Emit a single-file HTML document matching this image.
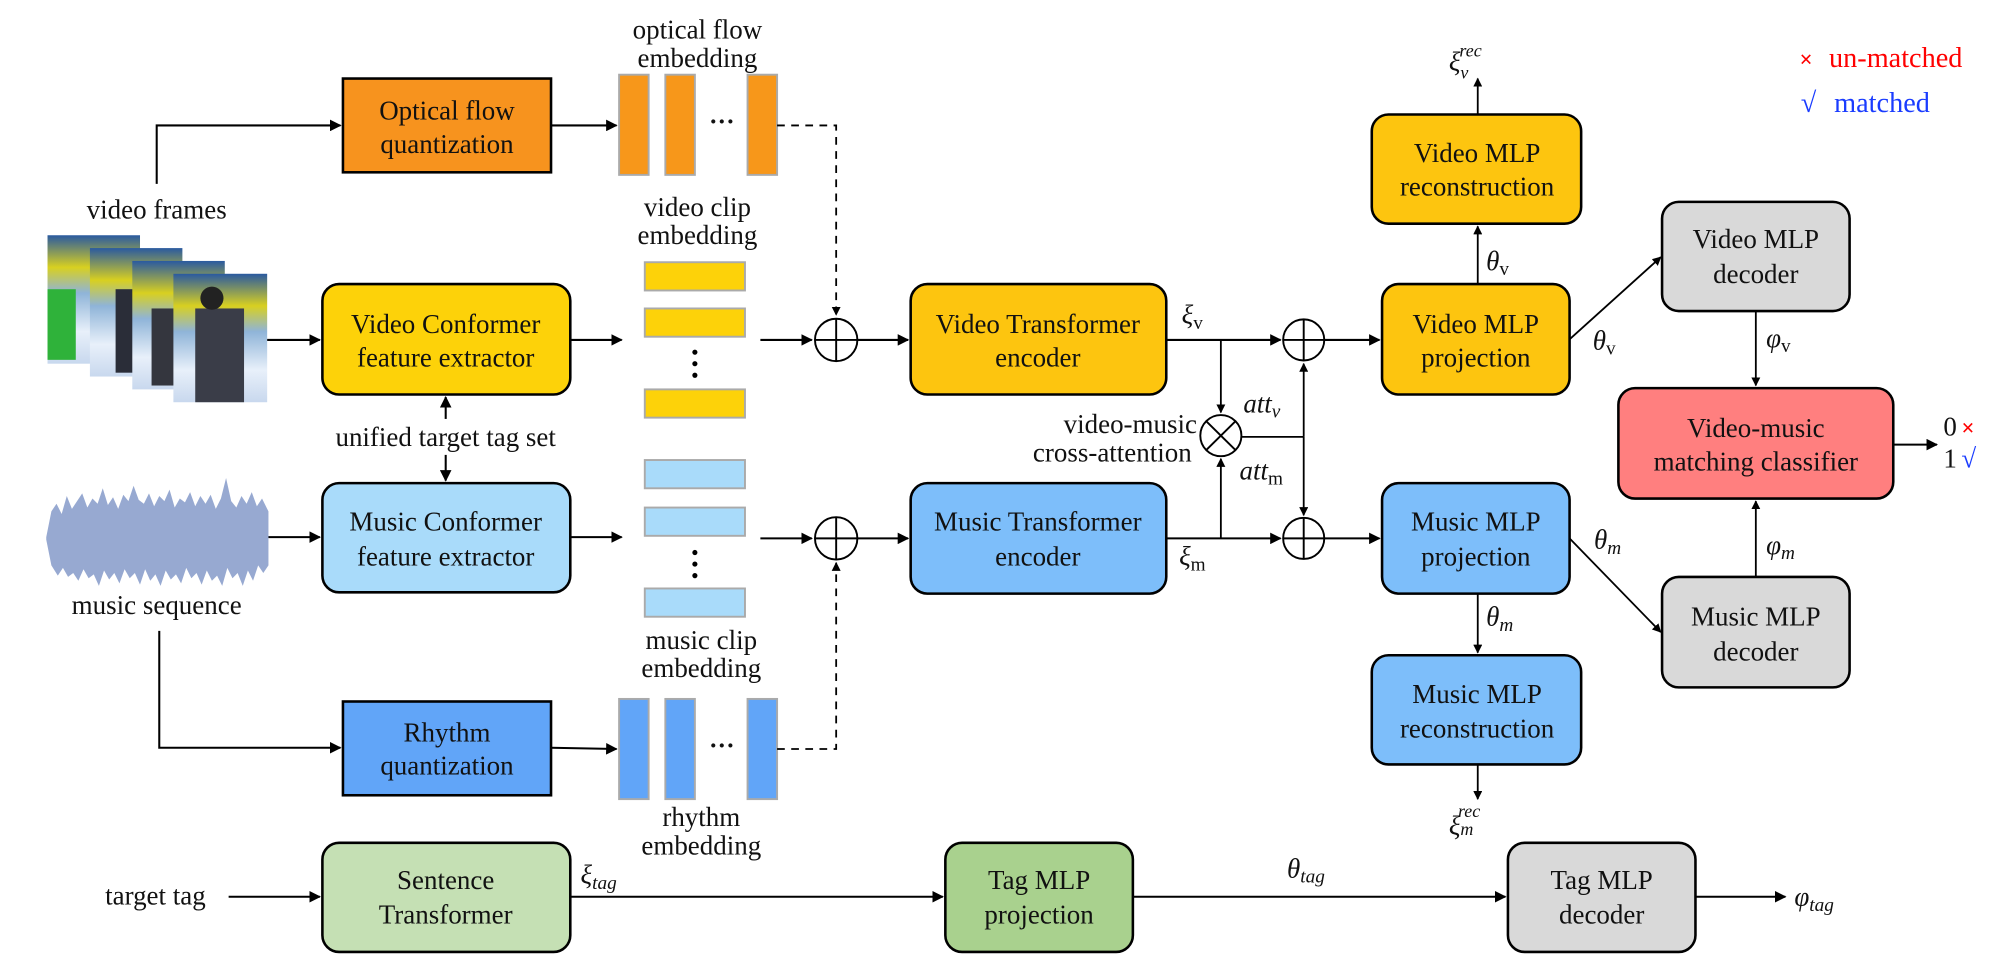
<!DOCTYPE html>
<html><head><meta charset="utf-8"><style>
html,body{margin:0;padding:0;background:#fff;}
svg{display:block;}
svg text{font-family:"Liberation Serif","Times New Roman",serif !important;fill:#111;}
.b{font-size:21px;}
.m{font-style:italic;font-size:21px;}
</style></head><body>
<svg width="2014" height="974" viewBox="0 0 1568 758" xmlns="http://www.w3.org/2000/svg" font-family="Liberation Serif, serif">
<defs>
<marker id="a" viewBox="0 0 10 10" refX="9" refY="5" markerWidth="7" markerHeight="7" orient="auto-start-reverse" markerUnits="userSpaceOnUse"><path d="M0,0 L10,5 L0,10 z" fill="#000"/></marker>
<marker id="A" viewBox="0 0 10 10" refX="9" refY="5" markerWidth="9" markerHeight="9" orient="auto-start-reverse" markerUnits="userSpaceOnUse"><path d="M0,0 L10,5 L0,10 z" fill="#000"/></marker>
<linearGradient id="fr" x1="0" y1="0" x2="0" y2="1">
<stop offset="0" stop-color="#2a5aa0"/><stop offset="0.25" stop-color="#d8d020"/><stop offset="0.45" stop-color="#8fb4d8"/><stop offset="0.75" stop-color="#e8f0fa"/><stop offset="1" stop-color="#c8d8ee"/></linearGradient>
</defs>

<!-- video frames -->
<g>
<rect x="37" y="183" width="72" height="100" fill="url(#fr)"/>
<rect x="37" y="225" width="22" height="55" fill="#2fb23a"/>
<rect x="70" y="193" width="72" height="100" fill="url(#fr)"/>
<rect x="90" y="225" width="35" height="65" fill="#2a2d38"/>
<rect x="103" y="203" width="72" height="100" fill="url(#fr)"/>
<rect x="118" y="240" width="40" height="60" fill="#34363e"/>
<rect x="135" y="213" width="73" height="100" fill="url(#fr)"/>
<rect x="152" y="240" width="38" height="73" fill="#3a3d48"/>
<circle cx="165" cy="232" r="9" fill="#222"/>
</g>
<text class="b" x="122" y="170" text-anchor="middle">video frames</text>

<!-- waveform -->
<path fill="#97A9D1" d="M36,418 L40,398 44,392 48,400 52,386 56,396 60,390 64,384 68,395 72,388 76,392 80,380 84,393 88,387 92,396 96,385 100,390 104,378 108,389 112,392 116,384 120,394 124,386 128,390 132,381 136,395 140,388 144,391 148,383 152,394 156,386 160,392 164,385 168,396 172,388 176,372 180,390 184,395 188,386 192,392 196,383 200,394 204,388 209,398 L209,440 205,446 201,440 197,452 193,444 189,456 185,446 181,450 177,442 173,456 169,448 165,452 161,444 157,455 153,446 149,450 145,442 141,454 137,447 133,451 129,444 125,456 121,447 117,452 113,443 109,455 105,446 101,450 97,443 93,454 89,446 85,451 81,444 77,456 73,447 69,450 65,443 61,452 57,446 53,449 49,442 45,448 40,440 36,420 Z"/>
<text class="b" x="122" y="478" text-anchor="middle">music sequence</text>

<!-- optical flow -->
<rect x="267" y="61" width="162" height="73" fill="#F7931E" stroke="#000" stroke-width="2"/>
<text class="b" x="348" y="93" text-anchor="middle">Optical flow</text>
<text class="b" x="348" y="119" text-anchor="middle">quantization</text>
<polyline points="122,143 122,97.5 265,97.5" fill="none" stroke="#000" stroke-width="1.6" marker-end="url(#A)"/>
<line x1="429" y1="97.5" x2="480" y2="97.5" stroke="#000" stroke-width="1.6" marker-end="url(#A)"/>
<g fill="#F7971A" stroke="#aaa" stroke-width="1.5">
<rect x="482" y="58" width="23" height="78"/><rect x="518" y="58" width="23" height="78"/><rect x="582" y="58" width="23" height="78"/></g>
<text x="562" y="101" text-anchor="middle" style="font-size:20px;font-weight:bold">···</text>
<polyline points="605,97.5 651,97.5 651,245" fill="none" stroke="#000" stroke-width="1.4" stroke-dasharray="6,5" marker-end="url(#a)"/>
<text class="b" x="543" y="30" text-anchor="middle">optical flow</text>
<text class="b" x="543" y="52" text-anchor="middle">embedding</text>

<!-- video conformer -->
<rect x="251" y="221" width="193" height="86" rx="13" fill="#FDD209" stroke="#000" stroke-width="2"/>
<text class="b" x="347" y="259" text-anchor="middle">Video Conformer</text>
<text class="b" x="347" y="285" text-anchor="middle">feature extractor</text>
<line x1="208" y1="264.5" x2="249" y2="264.5" stroke="#000" stroke-width="1.6" marker-end="url(#A)"/>
<line x1="444" y1="264.5" x2="484" y2="264.5" stroke="#000" stroke-width="1.6" marker-end="url(#A)"/>
<text class="b" x="543" y="168" text-anchor="middle">video clip</text>
<text class="b" x="543" y="190" text-anchor="middle">embedding</text>
<g fill="#FDD209" stroke="#aaa" stroke-width="1.5">
<rect x="502" y="204" width="78" height="22"/><rect x="502" y="240" width="78" height="22"/><rect x="502" y="303" width="78" height="22"/></g>
<g fill="#000"><circle cx="541" cy="274" r="2"/><circle cx="541" cy="283" r="2"/><circle cx="541" cy="292" r="2"/></g>
<line x1="592" y1="264.5" x2="632" y2="264.5" stroke="#000" stroke-width="1.6" marker-end="url(#A)"/>
<circle cx="651" cy="264.5" r="16.5" fill="none" stroke="#000" stroke-width="1.5"/>
<line x1="634.5" y1="264.5" x2="667.5" y2="264.5" stroke="#000" stroke-width="1.5"/>
<line x1="651" y1="248" x2="651" y2="281" stroke="#000" stroke-width="1.5"/>
<line x1="667.5" y1="264.5" x2="707" y2="264.5" stroke="#000" stroke-width="1.6" marker-end="url(#A)"/>

<!-- unified -->
<text class="b" x="347" y="347" text-anchor="middle">unified target tag set</text>
<line x1="347" y1="326" x2="347" y2="309" stroke="#000" stroke-width="1.6" marker-end="url(#A)"/>
<line x1="347" y1="354" x2="347" y2="374" stroke="#000" stroke-width="1.6" marker-end="url(#A)"/>

<!-- music conformer -->
<rect x="251" y="376" width="193" height="85" rx="13" fill="#A9DBFA" stroke="#000" stroke-width="2"/>
<text class="b" x="347" y="413" text-anchor="middle">Music Conformer</text>
<text class="b" x="347" y="440" text-anchor="middle">feature extractor</text>
<line x1="209" y1="418" x2="249" y2="418" stroke="#000" stroke-width="1.6" marker-end="url(#A)"/>
<line x1="444" y1="418" x2="484" y2="418" stroke="#000" stroke-width="1.6" marker-end="url(#A)"/>
<g fill="#A9DBFA" stroke="#aaa" stroke-width="1.5">
<rect x="502" y="358" width="78" height="22"/><rect x="502" y="395" width="78" height="22"/><rect x="502" y="458" width="78" height="22"/></g>
<g fill="#000"><circle cx="541" cy="430" r="2"/><circle cx="541" cy="439" r="2"/><circle cx="541" cy="448" r="2"/></g>
<text class="b" x="546" y="505" text-anchor="middle">music clip</text>
<text class="b" x="546" y="527" text-anchor="middle">embedding</text>
<line x1="592" y1="419" x2="632" y2="419" stroke="#000" stroke-width="1.6" marker-end="url(#A)"/>
<circle cx="651" cy="419" r="16.5" fill="none" stroke="#000" stroke-width="1.5"/>
<line x1="634.5" y1="419" x2="667.5" y2="419" stroke="#000" stroke-width="1.5"/>
<line x1="651" y1="402.5" x2="651" y2="435.5" stroke="#000" stroke-width="1.5"/>
<line x1="667.5" y1="419" x2="707" y2="419" stroke="#000" stroke-width="1.6" marker-end="url(#A)"/>

<!-- rhythm -->
<polyline points="124,491 124,582 265,582" fill="none" stroke="#000" stroke-width="1.6" marker-end="url(#A)"/>
<rect x="267" y="546" width="162" height="73" fill="#61A5F8" stroke="#000" stroke-width="2"/>
<text class="b" x="348" y="577" text-anchor="middle">Rhythm</text>
<text class="b" x="348" y="603" text-anchor="middle">quantization</text>
<line x1="429" y1="582" x2="480" y2="583" stroke="#000" stroke-width="1.6" marker-end="url(#A)"/>
<g fill="#61A5F8" stroke="#aaa" stroke-width="1.5">
<rect x="482" y="544" width="23" height="78"/><rect x="518" y="544" width="23" height="78"/><rect x="582" y="544" width="23" height="78"/></g>
<text x="562" y="587" text-anchor="middle" style="font-size:20px;font-weight:bold">···</text>
<polyline points="605,583 651,583 651,438" fill="none" stroke="#000" stroke-width="1.4" stroke-dasharray="6,5" marker-end="url(#a)"/>
<text class="b" x="546" y="643" text-anchor="middle">rhythm</text>
<text class="b" x="546" y="665" text-anchor="middle">embedding</text>

<!-- transformers -->
<rect x="709" y="221" width="199" height="86" rx="13" fill="#FDC50F" stroke="#000" stroke-width="2"/>
<text class="b" x="808" y="259" text-anchor="middle">Video Transformer</text>
<text class="b" x="808" y="285" text-anchor="middle">encoder</text>
<rect x="709" y="376" width="199" height="86" rx="13" fill="#7DBEFA" stroke="#000" stroke-width="2"/>
<text class="b" x="808" y="413" text-anchor="middle">Music Transformer</text>
<text class="b" x="808" y="440" text-anchor="middle">encoder</text>
<text class="m" x="920" y="252">ξ<tspan font-style="normal" font-size="15" dy="4">v</tspan></text>
<text class="m" x="918" y="440">ξ<tspan font-style="normal" font-size="15" dy="4">m</tspan></text>

<line x1="908" y1="264.5" x2="997" y2="264.5" stroke="#000" stroke-width="1.6" marker-end="url(#A)"/>
<line x1="908" y1="419" x2="997" y2="419" stroke="#000" stroke-width="1.6" marker-end="url(#A)"/>
<line x1="950.5" y1="264.5" x2="950.5" y2="321" stroke="#000" stroke-width="1.4" marker-end="url(#a)"/>
<line x1="950.5" y1="419" x2="950.5" y2="357" stroke="#000" stroke-width="1.4" marker-end="url(#a)"/>
<circle cx="950.5" cy="339" r="16" fill="#fff" stroke="#000" stroke-width="1.5"/>
<line x1="939" y1="327.7" x2="962" y2="350.3" stroke="#000" stroke-width="1.5"/>
<line x1="962" y1="327.7" x2="939" y2="350.3" stroke="#000" stroke-width="1.5"/>
<line x1="966.5" y1="340" x2="1015" y2="340" stroke="#000" stroke-width="1.4"/>
<line x1="1015" y1="340" x2="1015" y2="283" stroke="#000" stroke-width="1.4" marker-end="url(#a)"/>
<line x1="1015" y1="340" x2="1015" y2="401" stroke="#000" stroke-width="1.4" marker-end="url(#a)"/>
<circle cx="1015" cy="264.5" r="16" fill="none" stroke="#000" stroke-width="1.5"/>
<line x1="999" y1="264.5" x2="1031" y2="264.5" stroke="#000" stroke-width="1.5"/>
<line x1="1015" y1="248.5" x2="1015" y2="280.5" stroke="#000" stroke-width="1.5"/>
<circle cx="1015" cy="419" r="16" fill="none" stroke="#000" stroke-width="1.5"/>
<line x1="999" y1="419" x2="1031" y2="419" stroke="#000" stroke-width="1.5"/>
<line x1="1015" y1="403" x2="1015" y2="435" stroke="#000" stroke-width="1.5"/>
<line x1="1031" y1="264.5" x2="1074" y2="264.5" stroke="#000" stroke-width="1.6" marker-end="url(#A)"/>
<line x1="1031" y1="419" x2="1074" y2="419" stroke="#000" stroke-width="1.6" marker-end="url(#A)"/>
<text class="m" x="968" y="321">att<tspan font-size="15" dy="4">v</tspan></text>
<text class="m" x="965" y="373">att<tspan font-style="normal" font-size="15" dy="4">m</tspan></text>
<text class="b" x="880" y="337" text-anchor="middle">video-music</text>
<text class="b" x="866" y="359" text-anchor="middle">cross-attention</text>

<!-- video MLP -->
<rect x="1076" y="221" width="146" height="86" rx="13" fill="#FDC50F" stroke="#000" stroke-width="2"/>
<text class="b" x="1149" y="259" text-anchor="middle">Video MLP</text>
<text class="b" x="1149" y="285" text-anchor="middle">projection</text>
<rect x="1068" y="89" width="163" height="85" rx="13" fill="#FDC50F" stroke="#000" stroke-width="2"/>
<text class="b" x="1150" y="126" text-anchor="middle">Video MLP</text>
<text class="b" x="1150" y="152" text-anchor="middle">reconstruction</text>
<line x1="1150.5" y1="221" x2="1150.5" y2="176" stroke="#000" stroke-width="1.4" marker-end="url(#a)"/>
<line x1="1150.5" y1="89" x2="1150.5" y2="61" stroke="#000" stroke-width="1.4" marker-end="url(#a)"/>
<text class="m" x="1157" y="210">θ<tspan font-style="normal" font-size="15" dy="4">v</tspan></text>
<text class="m" x="1128" y="55">ξ<tspan font-size="14" dy="6">v</tspan><tspan font-size="14" dx="-7" dy="-17">rec</tspan></text>

<!-- music MLP -->
<rect x="1076" y="376" width="146" height="86" rx="13" fill="#7DBEFA" stroke="#000" stroke-width="2"/>
<text class="b" x="1149" y="413" text-anchor="middle">Music MLP</text>
<text class="b" x="1149" y="440" text-anchor="middle">projection</text>
<rect x="1068" y="510" width="163" height="85" rx="13" fill="#7DBEFA" stroke="#000" stroke-width="2"/>
<text class="b" x="1150" y="547" text-anchor="middle">Music MLP</text>
<text class="b" x="1150" y="574" text-anchor="middle">reconstruction</text>
<line x1="1150.5" y1="462" x2="1150.5" y2="508" stroke="#000" stroke-width="1.4" marker-end="url(#a)"/>
<line x1="1150.5" y1="595" x2="1150.5" y2="622" stroke="#000" stroke-width="1.4" marker-end="url(#a)"/>
<text class="m" x="1157" y="487">θ<tspan font-size="15" dy="4">m</tspan></text>
<text class="m" x="1128" y="650">ξ<tspan font-size="14" dy="0">m</tspan><tspan font-size="14" dx="-12" dy="-14">rec</tspan></text>

<!-- decoders -->
<rect x="1294" y="157" width="146" height="85" rx="13" fill="#D9D9D9" stroke="#000" stroke-width="2"/>
<text class="b" x="1367" y="193" text-anchor="middle">Video MLP</text>
<text class="b" x="1367" y="220" text-anchor="middle">decoder</text>
<rect x="1294" y="449" width="146" height="86" rx="13" fill="#D9D9D9" stroke="#000" stroke-width="2"/>
<text class="b" x="1367" y="487" text-anchor="middle">Music MLP</text>
<text class="b" x="1367" y="514" text-anchor="middle">decoder</text>
<line x1="1222" y1="264" x2="1293" y2="200" stroke="#000" stroke-width="1.4" marker-end="url(#a)"/>
<line x1="1222" y1="419" x2="1293" y2="492" stroke="#000" stroke-width="1.4" marker-end="url(#a)"/>
<text class="m" x="1240" y="272">θ<tspan font-style="normal" font-size="15" dy="4">v</tspan></text>
<text class="m" x="1241" y="427">θ<tspan font-size="15" dy="4">m</tspan></text>
<line x1="1367" y1="242" x2="1367" y2="300" stroke="#000" stroke-width="1.4" marker-end="url(#a)"/>
<line x1="1367" y1="449" x2="1367" y2="390" stroke="#000" stroke-width="1.4" marker-end="url(#a)"/>
<text class="m" x="1375" y="270">φ<tspan font-style="normal" font-size="15" dy="4">v</tspan></text>
<text class="m" x="1375" y="431">φ<tspan font-size="15" dy="4">m</tspan></text>

<!-- classifier -->
<rect x="1260" y="302" width="214" height="86" rx="13" fill="#FF7F7F" stroke="#000" stroke-width="2"/>
<text class="b" x="1367" y="340" text-anchor="middle">Video-music</text>
<text class="b" x="1367" y="366" text-anchor="middle">matching classifier</text>
<line x1="1474" y1="346" x2="1508" y2="346" stroke="#000" stroke-width="1.6" marker-end="url(#A)"/>
<text class="b" x="1513" y="339">0</text>
<text class="b" x="1513" y="364">1</text>
<text x="1527" y="339" style="font-size:18px;fill:#f00;font-weight:bold">×</text>
<text x="1527" y="364" style="font-size:21px;fill:#1a3cff">√</text>

<!-- legend -->
<text x="1401" y="52" style="font-size:18px;fill:#f00;font-weight:bold">×</text>
<text x="1424" y="52" style="font-size:22px;fill:#f00">un-matched</text>
<text x="1402" y="87" style="font-size:22px;fill:#1a3cff">√</text>
<text x="1428" y="87" style="font-size:22px;fill:#1a3cff">matched</text>

<!-- tag row -->
<text class="b" x="121" y="704" text-anchor="middle">target tag</text>
<line x1="178" y1="698" x2="249" y2="698" stroke="#000" stroke-width="1.6" marker-end="url(#A)"/>
<rect x="251" y="656" width="193" height="85" rx="13" fill="#C5E0B4" stroke="#000" stroke-width="2"/>
<text class="b" x="347" y="692" text-anchor="middle">Sentence</text>
<text class="b" x="347" y="719" text-anchor="middle">Transformer</text>
<text class="m" x="452" y="688">ξ<tspan font-size="15" dy="4">tag</tspan></text>
<line x1="444" y1="698" x2="734" y2="698" stroke="#000" stroke-width="1.6" marker-end="url(#A)"/>
<rect x="736" y="656" width="146" height="85" rx="13" fill="#A9D18E" stroke="#000" stroke-width="2"/>
<text class="b" x="809" y="692" text-anchor="middle">Tag MLP</text>
<text class="b" x="809" y="719" text-anchor="middle">projection</text>
<line x1="882" y1="698" x2="1172" y2="698" stroke="#000" stroke-width="1.6" marker-end="url(#A)"/>
<text class="m" x="1002" y="683">θ<tspan font-size="15" dy="4">tag</tspan></text>
<rect x="1174" y="656" width="146" height="85" rx="13" fill="#D9D9D9" stroke="#000" stroke-width="2"/>
<text class="b" x="1247" y="692" text-anchor="middle">Tag MLP</text>
<text class="b" x="1247" y="719" text-anchor="middle">decoder</text>
<line x1="1320" y1="698" x2="1390" y2="698" stroke="#000" stroke-width="1.6" marker-end="url(#A)"/>
<text class="m" x="1397" y="705">φ<tspan font-size="15" dy="4">tag</tspan></text>
</svg>
</body></html>
